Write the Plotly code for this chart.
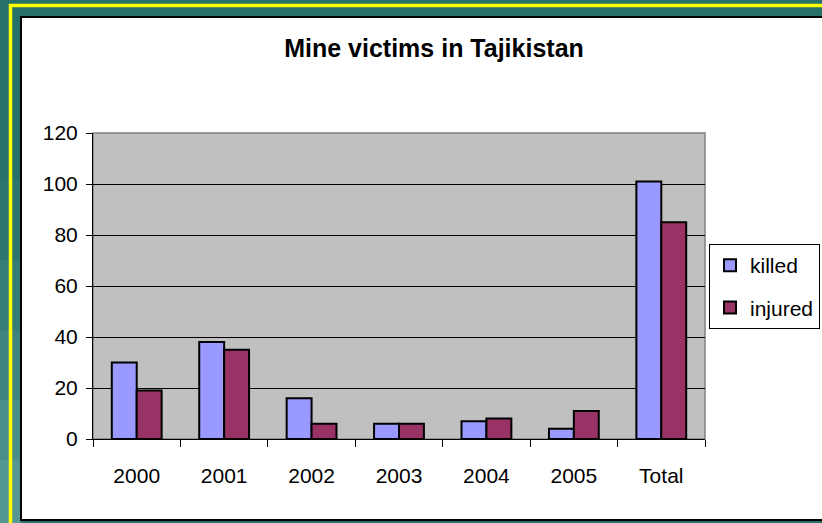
import plotly.graph_objects as go

categories = ["2000", "2001", "2002", "2003", "2004", "2005", "Total"]
killed = [30, 38, 16, 6, 7, 4, 101]
injured = [19, 35, 6, 6, 8, 11, 85]
y_ticks = [0, 20, 40, 60, 80, 100, 120]

W, H = 822, 523
L, R, T, B = 93, 705, 133, 439  # plot area in pixels

def px(x):
    return (x - L) / (R - L)

def py(y):
    return (B - y) / (B - T)

FONT = "Liberation Sans, Arial, sans-serif"

fig = go.Figure()
fig.add_trace(go.Bar(name="killed", x=categories, y=killed,
                     marker=dict(color="#9999FF", line=dict(color="black", width=2)),
                     legendgroup="a"))
fig.add_trace(go.Bar(name="injured", x=categories, y=injured,
                     marker=dict(color="#993366", line=dict(color="black", width=2)),
                     legendgroup="b"))

shapes = []
# left gradient strip of the teal frame
bands = [("#28706a", 0, 180), ("#2e756f", 180, 260), ("#367c77", 260, 330),
         ("#3f847f", 330, 400), ("#4a8e8a", 400, 460), ("#559793", 460, 530)]
for c, y0, y1 in bands:
    shapes.append(dict(type="rect", xref="paper", yref="paper", layer="below",
                       x0=px(0), x1=px(21), y0=py(y1), y1=py(y0),
                       fillcolor=c, line=dict(width=0)))
# yellow frame line
shapes.append(dict(type="rect", xref="paper", yref="paper", layer="below",
                   x0=px(10.5), x1=px(840), y0=py(560), y1=py(5.5),
                   fillcolor="rgba(0,0,0,0)", line=dict(color="#FFFF00", width=3.5)))
# white chart area
shapes.append(dict(type="rect", xref="paper", yref="paper", layer="below",
                   x0=px(21), x1=px(830), y0=py(520), y1=py(17),
                   fillcolor="white", line=dict(color="black", width=2)))
# gray plot area
shapes.append(dict(type="rect", xref="paper", yref="paper", layer="below",
                   x0=0, x1=1, y0=0, y1=1,
                   fillcolor="#C0C0C0", line=dict(color="#808080", width=1.5)))

fig.update_layout(
    width=W, height=H,
    margin=dict(l=L, r=W - R, t=T, b=H - B, pad=0, autoexpand=False),
    paper_bgcolor="#28706A",
    plot_bgcolor="#C0C0C0",
    shapes=shapes,
    barmode="group", bargap=0.43, bargroupgap=0,
    font=dict(family=FONT, color="black", size=21),
    title=dict(text="<b>Mine victims in Tajikistan</b>", x=434 / W, xanchor="center",
               y=1 - 48 / H, yanchor="middle", font=dict(size=25, family=FONT, color="black")),
    legend=dict(x=px(820), y=py(244), xanchor="right", yanchor="top",
                bgcolor="white", bordercolor="black", borderwidth=1,
                font=dict(size=21, family=FONT), tracegroupgap=12),
    xaxis=dict(type="category", showline=True, linecolor="black", linewidth=1,
               ticks="outside", tickson="boundaries", ticklen=7, tickcolor="black",
               tickfont=dict(size=21), showgrid=False, ticklabelstandoff=18),
    yaxis=dict(range=[0, 120], tickvals=y_ticks, showline=True, linecolor="black", linewidth=1,
               ticks="outside", ticklen=6, tickcolor="black", showgrid=True,
               gridcolor="black", gridwidth=1, zeroline=False, tickfont=dict(size=21),
               ticklabelstandoff=4),
)

fig.write_html("out.html", config={"displayModeBar": False},
               post_script="document.body.style.margin='0';")
